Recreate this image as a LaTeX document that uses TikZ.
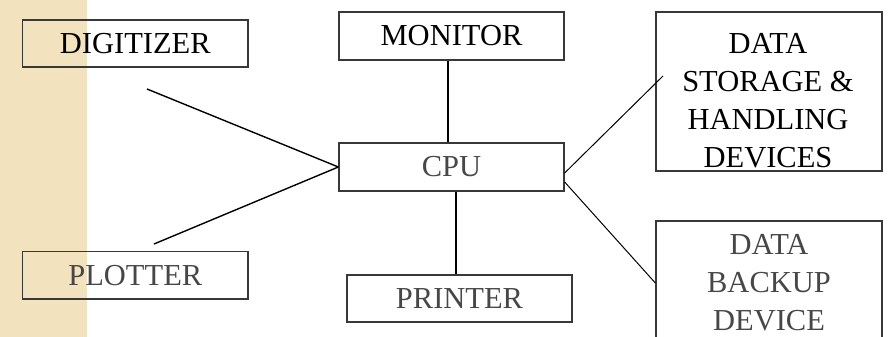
\documentclass[tikz,border=0pt]{standalone}
\usepackage{fontspec}
\setmainfont{Liberation Serif}
\definecolor{stripfill}{HTML}{F2E2BD}
\definecolor{boxline}{HTML}{383838}
\definecolor{softtext}{HTML}{474747}
\begin{document}
\begin{tikzpicture}[x=1pt,y=-1pt,
  unit/.style={draw=boxline, line width=1.3pt, inner sep=0pt, align=center,
    font=\fontsize{30.5}{38}\selectfont},
  plain/.style={inner sep=0pt, align=center, font=\fontsize{30.5}{38}\selectfont},
  wire/.style={draw=black, line width=1.4pt},
  thinwire/.style={draw=black, line width=1pt}]
\useasboundingbox (0,0) rectangle (888,337);
% decorative side band
\fill[stripfill] (0,0) rectangle (87,337);

% units
\node[unit, minimum width=225.5pt, minimum height=47pt] (digitizer) at (135.3,43.5) {DIGITIZER};
\node[unit, minimum width=225pt, minimum height=48pt] (monitor) at (451.5,36) {MONITOR};
\node[unit, minimum width=225pt, minimum height=48pt, text=softtext] (cpu) at (451.5,167) {CPU};
\node[unit, minimum width=225.5pt, minimum height=47.3pt, text=softtext] (plotter) at (135.3,275.3) {PLOTTER};
\node[unit, minimum width=225pt, minimum height=47pt, text=softtext] (printer) at (459.5,298.5) {PRINTER};
\node[unit, minimum width=226pt, minimum height=159pt] (storage) at (769,91.5) {};
\node[plain] (storagetext) at (768,100.5) {DATA\\STORAGE \&\\HANDLING\\DEVICES};
\node[unit, minimum width=226pt, minimum height=124pt, text=softtext] (backup) at (769,283) {DATA\\BACKUP\\DEVICE};

% free ends of the side links
\coordinate (digiend) at (147,89);
\coordinate (plotend) at (154,244);
\coordinate (storeend) at (663,76);

% connections
\draw[wire] (digiend) -- (cpu.west);
\draw[wire] (plotend) -- (cpu.west);
\draw[wire, line width=2pt] ([xshift=-3.5pt]monitor.south) -- ([xshift=-3.5pt]cpu.north);
\draw[wire, line width=2pt] ([xshift=4.5pt]cpu.south) -- ([xshift=-3.5pt]printer.north);
\draw[thinwire] ([yshift=-6pt]cpu.east) -- (storeend);
\draw[thinwire] ([yshift=-15pt]cpu.east) -- (backup.west);
\end{tikzpicture}
\end{document}
